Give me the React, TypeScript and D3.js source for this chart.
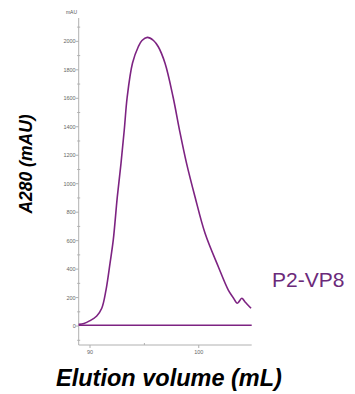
import * as d3 from "d3";

// elution volume (mL) and A280 (mAU)
const volume = [
  88.96, 89.45, 90.0, 90.62, 91.08, 91.47, 91.84, 92.14, 92.51, 92.85, 93.15,
  93.42, 93.91, 94.44, 94.78, 95.27, 95.84, 96.28, 96.9, 97.64, 98.23, 98.88,
  99.66, 100.58, 101.8, 102.72, 103.16, 103.55, 103.96, 104.26, 104.81,
];
const absorbance = [
  12, 18, 38, 71, 125, 253, 441, 605, 907, 1143, 1377, 1609, 1848, 1962, 2006,
  2028, 2006, 1962, 1846, 1609, 1377, 1143, 907, 652, 417, 253, 201, 160, 195,
  169, 125,
];
const baselineVolume = [88.96, 104.87];
const baselineValue = [6, 6];

const yTickLabels = [0, 200, 400, 600, 800, 1000, 1200, 1400, 1600, 1800, 2000];
const yMinorTicks = [-100, 100, 300, 500, 700, 900, 1100, 1300, 1500, 1700, 1900, 2100];
const xTickLabels = [90, 100];
const xMinorTicks = [95];

const seriesName = "P2-VP8";

const width = 355;
const height = 394;

export default function App() {
  const x = d3.scaleLinear().domain([88.96, 104.87]).range([78.7, 251.7]);
  const y = d3.scaleLinear().domain([-133, 2164]).range([345, 18]);

  const line = d3
    .line<number>()
    .x((_, i) => x(volume[i]))
    .y((d) => y(d))
    .curve(d3.curveCatmullRom.alpha(0.5));

  const baseLine = d3
    .line<number>()
    .x((_, i) => x(baselineVolume[i]))
    .y((d) => y(d));

  const [x0, x1] = x.range();
  const [yBottom, yTop] = y.range();
  const axisColor = "#b0b0b0";
  const purple = "#7d2382";

  return (
    <svg
      width={width}
      height={height}
      style={{ position: "absolute", left: 0, top: 0 }}
      fontFamily="'Liberation Sans', Arial, sans-serif"
    >
      {/* y axis */}
      <line x1={x0} x2={x0} y1={yTop} y2={yBottom} stroke={axisColor} strokeWidth={1} />
      {yTickLabels.map((t) => (
        <g key={"y" + t}>
          <line x1={x0 - 3} x2={x0} y1={y(t)} y2={y(t)} stroke={axisColor} />
          <text x={x0 - 3} y={y(t)} dy="0.35em" fontSize={5.5} fill="#666" textAnchor="end">
            {t}
          </text>
        </g>
      ))}
      {yMinorTicks.map((t) => (
        <line key={"ym" + t} x1={x0 - 1.5} x2={x0 + 1.5} y1={y(t)} y2={y(t)} stroke={axisColor} />
      ))}
      <text x={71.5} y={14} fontSize={5} fill="#555" textAnchor="middle">
        mAU
      </text>

      {/* x axis */}
      <line x1={x0} x2={x1} y1={yBottom} y2={yBottom} stroke={axisColor} />
      {xTickLabels.map((t) => (
        <g key={"x" + t}>
          <line x1={x(t)} x2={x(t)} y1={yBottom} y2={yBottom + 3} stroke={axisColor} />
          <text x={x(t)} y={yBottom + 9} fontSize={5.5} fill="#666" textAnchor="middle">
            {t}
          </text>
        </g>
      ))}
      {xMinorTicks.map((t) => (
        <line key={"xm" + t} x1={x(t)} x2={x(t)} y1={yBottom - 2} y2={yBottom} stroke={axisColor} />
      ))}

      {/* traces */}
      <path d={baseLine(baselineValue) ?? ""} fill="none" stroke={purple} strokeWidth={1.6} />
      <path d={line(absorbance) ?? ""} fill="none" stroke={purple} strokeWidth={1.6} />

      <text x={272} y={287} fontSize={21} fill="#6b2a7a">
        {seriesName}
      </text>

      {/* axis titles */}
      <text
        transform="translate(32,164) rotate(-90)"
        textAnchor="middle"
        fontSize={17.5}
        fontWeight="bold"
        fontStyle="italic"
        fill="#000"
      >
        A280 (mAU)
      </text>
      <text
        x={169}
        y={386}
        textAnchor="middle"
        fontSize={23.5}
        fontWeight="bold"
        fontStyle="italic"
        fill="#000"
      >
        Elution volume (mL)
      </text>
    </svg>
  );
}
